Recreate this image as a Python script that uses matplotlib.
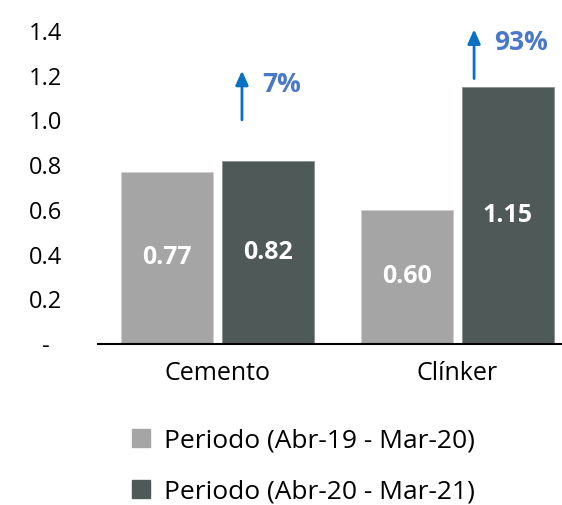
import matplotlib
matplotlib.use("Agg")
import matplotlib.pyplot as plt
from matplotlib.lines import Line2D
import numpy as np

plt.rcParams['font.family'] = ['Open Sans', 'DejaVu Sans']

categorias = ["Cemento", "Clínker"]
periodo_1 = [0.77, 0.60]
periodo_2 = [0.82, 1.15]
etiquetas_serie = ["Periodo (Abr-19 - Mar-20)", "Periodo (Abr-20 - Mar-21)"]
variacion = ["7%", "93%"]
yticks = [0, 0.2, 0.4, 0.6, 0.8, 1.0, 1.2, 1.4]
ytick_labels = ["-", "0.2", "0.4", "0.6", "0.8", "1.0", "1.2", "1.4"]

gris = "#A5A5A5"
oscuro = "#4E5958"
azul_flecha = "#0A70C4"
azul_texto = "#4A78C8"

fig = plt.figure(figsize=(5.62, 5.05), dpi=100)
ax = fig.add_axes([0.1744, 0.3188, 0.8256, 0.664])

x = np.arange(len(categorias))
w = 0.384
off = 0.211
b1 = ax.bar(x - off, periodo_1, w, color=gris, edgecolor="#D0D0D0", linewidth=0.6)
b2 = ax.bar(x + off, periodo_2, w, color=oscuro, edgecolor="#8A9090", linewidth=0.6)

for bars, vals in [(b1, periodo_1), (b2, periodo_2)]:
    for r, v in zip(bars, vals):
        ax.text(r.get_x() + r.get_width() / 2, v / 2, f"{v:.2f}",
                ha="center", va="center", color="white",
                fontsize=18, fontweight="bold")

# flechas de variacion (posicion relativa a cada categoria)
flechas = [(0.102, 0.99, 1.235), (0.071, 1.175, 1.42)]
for i, ((dx, y0, y1), txt) in enumerate(zip(flechas, variacion)):
    xa = x[i] + dx
    ax.annotate("", xy=(xa, y1), xytext=(xa, y0),
                arrowprops=dict(arrowstyle="-|>,head_length=0.85,head_width=0.38",
                                color=azul_flecha, lw=2),
                annotation_clip=False)
    ax.text(xa + 0.085, (y0 + y1) / 2 + 0.05, txt, color=azul_texto,
            fontsize=19, fontweight="bold", ha="left", va="center")

ax.set_xlim(-0.499, 1.438)
ax.set_ylim(0, 1.5)
ax.set_yticks(yticks)
ax.set_yticklabels(ytick_labels)
ax.set_xticks(x)
ax.set_xticklabels(categorias)
ax.tick_params(axis="y", length=0, pad=37.8, labelsize=17)
ax.tick_params(axis="x", length=0, pad=12, labelsize=18)
for lbl in ax.get_yticklabels():
    lbl.set_horizontalalignment("center")

for s in ["top", "right", "left"]:
    ax.spines[s].set_visible(False)
ax.spines["bottom"].set_color("black")
ax.spines["bottom"].set_linewidth(1.5)

handles = [Line2D([], [], marker="s", linestyle="none", markersize=12.5,
                  markerfacecolor=c, markeredgecolor=c) for c in (gris, oscuro)]
fig.legend(handles, etiquetas_serie, loc="upper left",
           bbox_to_anchor=(0.2336, 0.152), frameon=False, fontsize=19,
           handlelength=0.7, handletextpad=0.55, labelspacing=0.98,
           borderaxespad=0, borderpad=0)

fig.savefig("out.png", dpi=100)
